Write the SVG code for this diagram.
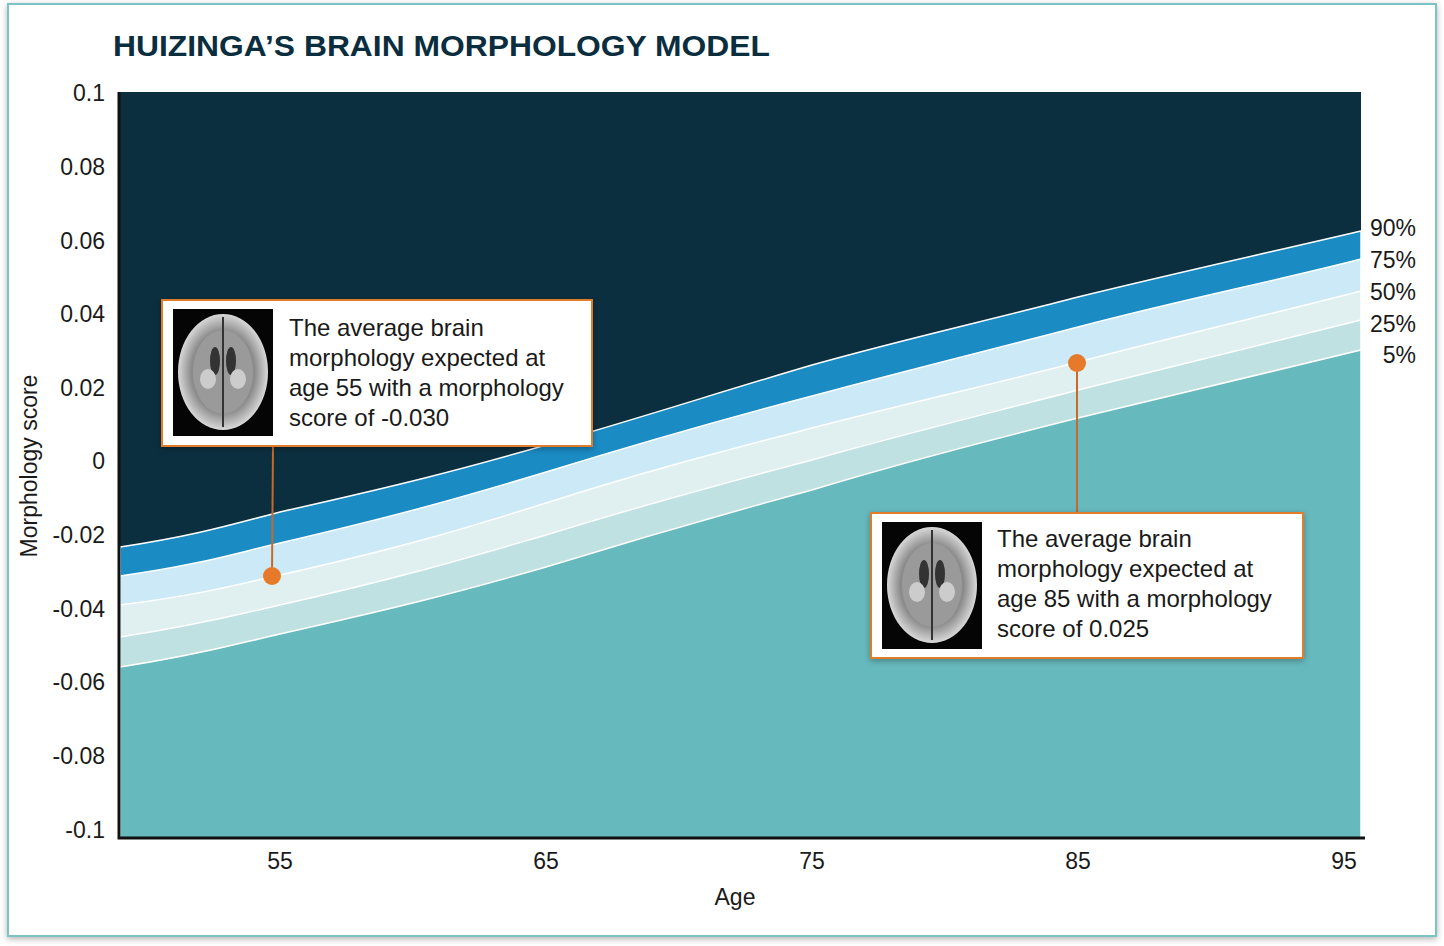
<svg xmlns="http://www.w3.org/2000/svg" width="1444" height="946" viewBox="0 0 1444 946">
<defs>
<style>
.t{font-family:"Liberation Sans",Arial,sans-serif;fill:#1a1a1a}
.ax{font-size:23px;text-anchor:end}
.xl{font-size:23px;text-anchor:middle}
.cl{font-size:24px}
.band{stroke:#fff;stroke-width:1.5}
.box{fill:#fff;stroke:#e07b2a;stroke-width:2}
.lead{stroke:#c8692a;stroke-width:2}
.dot{fill:#e67a2a}
</style>
<filter id="sh" x="-10%" y="-10%" width="120%" height="130%"><feDropShadow dx="0" dy="2" stdDeviation="3" flood-opacity="0.3"/></filter>
<radialGradient id="br" cx="50%" cy="50%" r="50%"><stop offset="0" stop-color="#bbb"/><stop offset="0.7" stop-color="#8a8a8a"/><stop offset="1" stop-color="#d8d8d8"/></radialGradient>
<g id="brain">
<rect x="0" y="0" width="100" height="127" fill="#050505"/>
<ellipse cx="50" cy="63" rx="45" ry="58" fill="url(#br)"/>
<ellipse cx="50" cy="63" rx="30" ry="42" fill="#9a9a9a"/>
<path d="M50 8 V118" stroke="#333" stroke-width="2"/>
<ellipse cx="42" cy="52" rx="5" ry="14" fill="#333"/>
<ellipse cx="58" cy="52" rx="5" ry="14" fill="#333"/>
<ellipse cx="35" cy="70" rx="8" ry="10" fill="#ccc"/>
<ellipse cx="65" cy="70" rx="8" ry="10" fill="#ccc"/>
</g>
</defs>
<rect x="8" y="4" width="1428" height="932" fill="#fff" stroke="#7cc4c4" stroke-width="2" filter="url(#sh)"/>
<text x="113" y="56" font-family="'Liberation Sans',sans-serif" font-weight="bold" font-size="29" fill="#0b2e3f" textLength="657" lengthAdjust="spacingAndGlyphs">HUIZINGA’S BRAIN MORPHOLOGY MODEL</text>
<g id="plot">
<rect x="119" y="92" width="1242" height="746" fill="#0b2f3f"/>
<path class="band" fill="#1b8bc4" d="M120 547 C200 535 240 522 280 512 C400 485 460 470 546 445 C650 415 720 392 812 365 C900 340 990 320 1078 297 C1180 272 1280 250 1361 231 V838 H120Z"/>
<path class="band" fill="#cbe9f6" d="M120 576 C200 565 240 552 280 543 C400 515 460 498 546 472 C650 440 720 420 812 396 C900 372 990 350 1078 327 C1180 300 1280 280 1361 259 V838 H120Z"/>
<path class="band" fill="#e0f0f0" d="M120 605 C200 595 240 584 280 575 C400 548 460 530 546 503 C650 470 720 452 812 428 C900 405 990 385 1078 362 C1180 335 1280 312 1361 291 V838 H120Z"/>
<path class="band" fill="#c0e1e2" d="M120 637 C200 625 240 614 280 605 C400 578 460 560 546 535 C650 503 720 484 812 460 C900 435 990 413 1078 390 C1180 364 1280 340 1361 320 V838 H120Z"/>
<path class="band" fill="#66b9bd" d="M120 667 C200 655 240 643 280 634 C400 607 460 592 546 567 C650 535 720 515 812 490 C900 463 990 440 1078 418 C1180 393 1280 370 1361 350 V838 H120Z"/>
<path d="M119 92 V838 H1365" fill="none" stroke="#111" stroke-width="3"/>
</g>
<g class="t ax">
<text x="105" y="101">0.1</text><text x="105" y="175">0.08</text><text x="105" y="249">0.06</text><text x="105" y="322">0.04</text><text x="105" y="396">0.02</text><text x="105" y="469">0</text><text x="105" y="543">-0.02</text><text x="105" y="617">-0.04</text><text x="105" y="690">-0.06</text><text x="105" y="764">-0.08</text><text x="105" y="838">-0.1</text>
</g>
<g class="t xl">
<text x="280" y="869">55</text><text x="546" y="869">65</text><text x="812" y="869">75</text><text x="1078" y="869">85</text><text x="1344" y="869">95</text>
<text x="735" y="905">Age</text>
</g>
<text class="t xl" transform="translate(37,466) rotate(-90)">Morphology score</text>
<g class="t ax">
<text x="1416" y="236">90%</text><text x="1416" y="268">75%</text><text x="1416" y="300">50%</text><text x="1416" y="332">25%</text><text x="1416" y="363">5%</text>
</g>
<g id="connectors">
<line class="lead" x1="273" y1="446" x2="272" y2="576"/>
<circle class="dot" cx="272" cy="576" r="9"/>
<line class="lead" x1="1077" y1="363" x2="1077" y2="513"/>
<circle class="dot" cx="1077" cy="363" r="9"/>
</g>
<g id="callout55">
<rect class="box" x="162" y="300" width="430" height="146" filter="url(#sh)"/>
<use href="#brain" x="173" y="309"/>
<text class="t cl" x="289" y="336">The average brain</text>
<text class="t cl" x="289" y="366">morphology expected at</text>
<text class="t cl" x="289" y="396">age 55 with a morphology</text>
<text class="t cl" x="289" y="426">score of -0.030</text>
</g>
<g id="callout85">
<rect class="box" x="871" y="513" width="432" height="145" filter="url(#sh)"/>
<use href="#brain" x="882" y="522"/>
<text class="t cl" x="997" y="547">The average brain</text>
<text class="t cl" x="997" y="577">morphology expected at</text>
<text class="t cl" x="997" y="607">age 85 with a morphology</text>
<text class="t cl" x="997" y="637">score of 0.025</text>
</g>
</svg>
